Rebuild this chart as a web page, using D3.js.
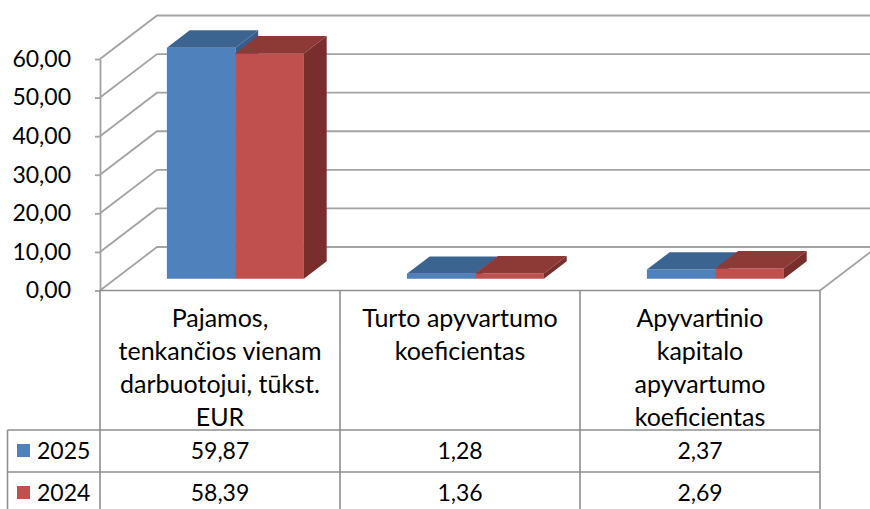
<!DOCTYPE html>
<html>
<head>
<meta charset="utf-8">
<script src="https://cdn.jsdelivr.net/npm/d3@7"></script>
<style>
  html, body { margin: 0; padding: 0; background: #fff; }
  svg { display: block; }
  text { font-family: Lato, "Open Sans", sans-serif; fill: #000; }
</style>
</head>
<body>
<svg id="chart" width="870" height="509"></svg>
<script>
// ---- data ----
const categories = [
  ["Pajamos,", "tenkančios vienam", "darbuotojui, tūkst.", "EUR"],
  ["Turto apyvartumo", "koeficientas"],
  ["Apyvartinio", "kapitalo", "apyvartumo", "koeficientas"]
];
const seriesNames = ["2025", "2024"];
const values2025 = [59.87, 1.28, 2.37];
const values2024 = [58.39, 1.36, 2.69];
const tickValues = [0, 10, 20, 30, 40, 50, 60];

// ---- layout / style ----
const W = 870, H = 509;
const plotLeft = 100, plotRight = 820;
const yZero = 290.5, yTop = 59;
const DX = 57, DY = -43.5;          // depth of the 3D box
const barD0 = 0.27, barD1 = 0.67;   // bar depth range (fraction)
const fontSize = 23;
const headFontSize = 25;
const gridColor = "#a3a3a3";
const tableColor = "#8f8f8f";
const faceColors = {
  "2025": { front: "#4f81bd", top: "#3c6491", side: "#385d8a" },
  "2024": { front: "#c0504d", top: "#8d3936", side: "#7a2e2c" }
};

const locale = d3.formatLocale({ decimal: ",", thousands: " ", grouping: [3], currency: ["", "€"] });
const fmt = locale.format(".2f");

const svg = d3.select("#chart");

const y = d3.scaleLinear().domain([0, 60]).range([yZero, yTop]);
const catKeys = categories.map((c, i) => i);
const x = d3.scaleBand().domain(catKeys).range([plotLeft, plotRight]).padding(0);
const barW = 68.5;
const xInner = d3.scaleBand().domain(seriesNames)
  .range([x.bandwidth() / 2 - barW, x.bandwidth() / 2 + barW]).padding(0);

const seriesData = { "2025": values2025, "2024": values2024 };

// ---- walls / gridlines ----
const grid = svg.append("g").attr("fill", "none").attr("stroke", gridColor).attr("stroke-width", 1.8);
tickValues.forEach(t => {
  const yy = y(t);
  grid.append("path").attr("d", d3.line()([[plotLeft, yy], [plotLeft + DX, yy + DY], [W + 5, yy + DY]]));
});
// floor right edge
grid.append("path").attr("d", d3.line()([[plotRight, yZero], [plotRight + DX, yZero + DY]]));

// ---- axis ----
const axis = d3.axisLeft(y).tickValues(tickValues).tickFormat(fmt).tickSize(5).tickSizeOuter(0).tickPadding(24);
const axG = svg.append("g").attr("transform", `translate(${plotLeft},0)`).call(axis);
axG.select(".domain").attr("stroke", gridColor).attr("stroke-width", 1.8);
axG.selectAll(".tick line").attr("stroke", gridColor).attr("stroke-width", 1.8);
axG.selectAll(".tick text").style("font-size", fontSize + "px").style("font-family", "Lato").attr("fill", "#000");

// ---- bars ----
const bars = svg.append("g");
catKeys.forEach(ci => {
  seriesNames.forEach(s => {
    const v = seriesData[s][ci];
    const c = faceColors[s];
    const x0 = x(ci) + xInner(s) + barD0 * DX;
    const x1 = x0 + xInner.bandwidth();
    const yb = y(0) + barD0 * DY;
    const yt = y(v) + barD0 * DY;
    const ddx = (barD1 - barD0) * DX, ddy = (barD1 - barD0) * DY;
    bars.append("path").attr("fill", c.front)
      .attr("d", d3.line()([[x0, yb], [x0, yt], [x1, yt], [x1, yb]]) + "Z");
    bars.append("path").attr("fill", c.top)
      .attr("d", d3.line()([[x0, yt], [x0 + ddx, yt + ddy], [x1 + ddx, yt + ddy], [x1, yt]]) + "Z");
    bars.append("path").attr("fill", c.side)
      .attr("d", d3.line()([[x1, yb], [x1, yt], [x1 + ddx, yt + ddy], [x1 + ddx, yb + ddy]]) + "Z");
  });
});

// ---- data table ----
const tbl = svg.append("g").attr("stroke", tableColor).attr("stroke-width", 1.6).attr("fill", "none");
const rowTop = yZero, rowHead = 430, row1 = 472, rowEnd = 520;
const legendLeft = 7.5;
tbl.append("line").attr("x1", plotLeft).attr("x2", plotRight).attr("y1", rowTop).attr("y2", rowTop);
[rowHead, row1].forEach(yy => tbl.append("line").attr("x1", legendLeft).attr("x2", plotRight).attr("y1", yy).attr("y2", yy));
catKeys.concat([catKeys.length]).forEach(i => {
  const xx = i < catKeys.length ? x(i) : plotRight;
  tbl.append("line").attr("x1", xx).attr("x2", xx).attr("y1", rowTop).attr("y2", rowEnd);
});
tbl.append("line").attr("x1", legendLeft).attr("x2", legendLeft).attr("y1", rowHead).attr("y2", rowEnd);

// header labels
const lineH = 33;
catKeys.forEach(ci => {
  const t = svg.append("text").attr("text-anchor", "middle").style("font-size", headFontSize + "px")
    .attr("x", x(ci) + x.bandwidth() / 2).attr("y", 327);
  categories[ci].forEach((ln, k) => {
    t.append("tspan").attr("x", x(ci) + x.bandwidth() / 2).attr("dy", k === 0 ? 0 : lineH).text(ln);
  });
});

// value rows
const rowBaselines = [459, 501];
seriesNames.forEach((s, ri) => {
  svg.append("rect").attr("x", 17).attr("y", rowBaselines[ri] - 15).attr("width", 13).attr("height", 13)
    .attr("fill", faceColors[s].front);
  svg.append("text").attr("x", 37).attr("y", rowBaselines[ri]).style("font-size", fontSize + "px").text(s);
  seriesData[s].forEach((v, ci) => {
    svg.append("text").attr("text-anchor", "middle").style("font-size", fontSize + "px")
      .attr("x", x(ci) + x.bandwidth() / 2).attr("y", rowBaselines[ri]).text(fmt(v));
  });
});
</script>
</body>
</html>
